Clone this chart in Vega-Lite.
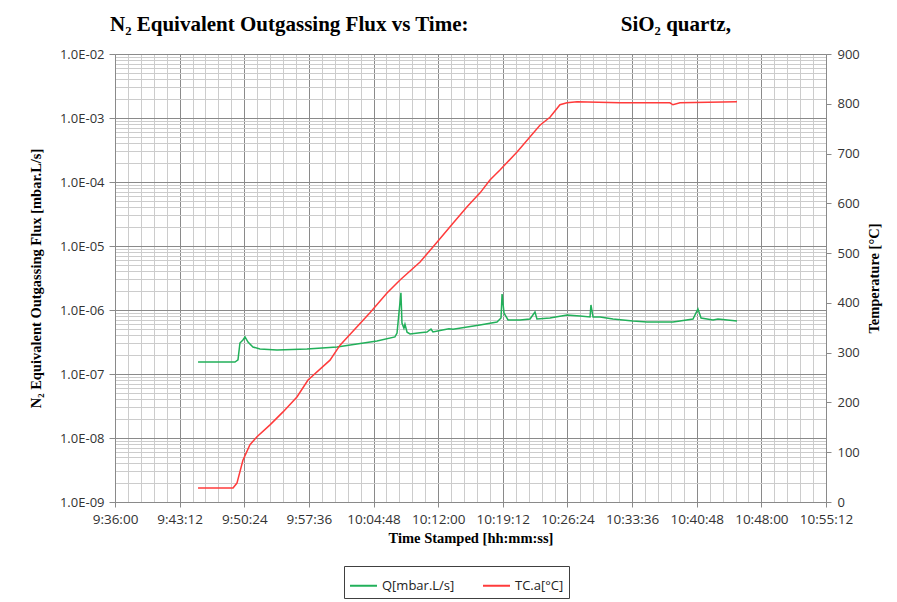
{
  "$schema": "https://vega.github.io/schema/vega-lite/v6.json",
  "width": 711,
  "height": 448,
  "autosize": {"type": "none"},
  "padding": {"left": 115, "top": 54, "right": 71, "bottom": 100},
  "background": "white",
  "config": {"view": {"stroke": null}},
  "title": {
    "text": "N₂ Equivalent Outgassing Flux vs Time: \u2003\u2003\u2003\u2003\u2003\u2003\u2003SiO₂ quartz,",
    "anchor": "start",
    "frame": "group",
    "dx": -5,
    "offset": 13,
    "font": "Liberation Serif",
    "fontSize": 21,
    "fontWeight": "bold",
    "color": "black"
  },
  "datasets": {
    "flux": [
      {"t": 35115, "Q": 1.54e-7}, {"t": 35362, "Q": 1.54e-7}, {"t": 35382, "Q": 1.66e-7},
      {"t": 35395, "Q": 3.05e-7}, {"t": 35415, "Q": 3.4e-7}, {"t": 35429, "Q": 3.79e-7},
      {"t": 35449, "Q": 3.16e-7}, {"t": 35482, "Q": 2.64e-7}, {"t": 35529, "Q": 2.46e-7},
      {"t": 35643, "Q": 2.37e-7}, {"t": 35843, "Q": 2.46e-7}, {"t": 36044, "Q": 2.64e-7},
      {"t": 36177, "Q": 2.94e-7}, {"t": 36311, "Q": 3.28e-7}, {"t": 36431, "Q": 3.79e-7},
      {"t": 36445, "Q": 4.37e-7}, {"t": 36458, "Q": 9.0e-7}, {"t": 36471, "Q": 1.85e-6},
      {"t": 36478, "Q": 6.26e-7}, {"t": 36491, "Q": 5.2e-7}, {"t": 36498, "Q": 6.0e-7},
      {"t": 36512, "Q": 4.5e-7}, {"t": 36532, "Q": 4.22e-7}, {"t": 36599, "Q": 4.4e-7},
      {"t": 36645, "Q": 4.53e-7}, {"t": 36672, "Q": 5.05e-7}, {"t": 36685, "Q": 4.53e-7},
      {"t": 36732, "Q": 4.8e-7}, {"t": 36792, "Q": 5.1e-7}, {"t": 36819, "Q": 5.0e-7},
      {"t": 36999, "Q": 5.83e-7}, {"t": 37113, "Q": 6.5e-7}, {"t": 37140, "Q": 7.5e-7},
      {"t": 37147, "Q": 1.78e-6}, {"t": 37160, "Q": 8.97e-7}, {"t": 37187, "Q": 7.0e-7},
      {"t": 37267, "Q": 6.98e-7}, {"t": 37334, "Q": 7.24e-7}, {"t": 37367, "Q": 9.3e-7},
      {"t": 37380, "Q": 7.24e-7}, {"t": 37467, "Q": 7.5e-7}, {"t": 37581, "Q": 8.35e-7},
      {"t": 37668, "Q": 8.05e-7}, {"t": 37735, "Q": 7.77e-7}, {"t": 37741, "Q": 1.2e-6},
      {"t": 37755, "Q": 7.77e-7}, {"t": 37802, "Q": 7.77e-7}, {"t": 37888, "Q": 7.24e-7},
      {"t": 38022, "Q": 6.73e-7}, {"t": 38116, "Q": 6.49e-7}, {"t": 38289, "Q": 6.49e-7},
      {"t": 38336, "Q": 6.73e-7}, {"t": 38423, "Q": 7.24e-7}, {"t": 38456, "Q": 1.04e-6},
      {"t": 38477, "Q": 7.5e-7}, {"t": 38557, "Q": 6.98e-7}, {"t": 38590, "Q": 7.24e-7},
      {"t": 38717, "Q": 6.73e-7}
    ],
    "temp": [
      {"t": 35115, "T": 28}, {"t": 35349, "T": 28}, {"t": 35375, "T": 38}, {"t": 35415, "T": 84},
      {"t": 35462, "T": 115}, {"t": 35509, "T": 131}, {"t": 35596, "T": 155}, {"t": 35683, "T": 181},
      {"t": 35776, "T": 211}, {"t": 35850, "T": 245}, {"t": 35997, "T": 285}, {"t": 36064, "T": 315},
      {"t": 36264, "T": 380}, {"t": 36378, "T": 420}, {"t": 36465, "T": 446}, {"t": 36599, "T": 482},
      {"t": 36712, "T": 522}, {"t": 36819, "T": 560}, {"t": 36913, "T": 593}, {"t": 37000, "T": 621},
      {"t": 37066, "T": 647}, {"t": 37133, "T": 667}, {"t": 37247, "T": 703}, {"t": 37400, "T": 757},
      {"t": 37467, "T": 773}, {"t": 37534, "T": 798}, {"t": 37581, "T": 802}, {"t": 37648, "T": 804},
      {"t": 37935, "T": 802}, {"t": 38269, "T": 802}, {"t": 38289, "T": 798}, {"t": 38336, "T": 802},
      {"t": 38717, "T": 804}
    ]
  },
  "encoding": {
    "x": {
      "field": "t",
      "type": "quantitative",
      "scale": {"domain": [34560, 39312], "nice": false, "zero": false},
      "axis": {
        "values": [34560, 34646.4, 34732.8, 34819.2, 34905.6, 34992, 35078.4, 35164.8, 35251.2, 35337.6, 35424, 35510.4, 35596.8, 35683.2, 35769.6, 35856, 35942.4, 36028.8, 36115.2, 36201.6, 36288, 36374.4, 36460.8, 36547.2, 36633.6, 36720, 36806.4, 36892.8, 36979.2, 37065.6, 37152, 37238.4, 37324.8, 37411.2, 37497.6, 37584, 37670.4, 37756.8, 37843.2, 37929.6, 38016, 38102.4, 38188.8, 38275.2, 38361.6, 38448, 38534.4, 38620.8, 38707.2, 38793.6, 38880, 38966.4, 39052.8, 39139.2, 39225.6, 39312],
        "labelExpr": "abs((datum.value-34560)/432 - round((datum.value-34560)/432)) < 0.01 ? floor(datum.value/3600) + ':' + pad(toString(floor((datum.value%3600)/60)),2,'0','left') + ':' + pad(toString(round(datum.value%60)),2,'0','left') : ''",
        "labelOverlap": false,
        "labelBound": false,
        "labelFlush": false,
        "labelFont": "Open Sans",
        "labelFontSize": 13.5,
        "labelColor": "#333333",
        "labelPadding": 5,
        "grid": true,
        "gridColor": {"condition": {"test": "abs((datum.value-34560)/432 - round((datum.value-34560)/432)) < 0.01", "value": "#8a8a8a"}, "value": "#cccccc"},
        "gridWidth": 1,
        "ticks": true,
        "tickSize": 5,
        "tickColor": "#8a8a8a",
        "tickOpacity": {"condition": {"test": "abs((datum.value-34560)/432 - round((datum.value-34560)/432)) < 0.01", "value": 1}, "value": 0},
        "domainColor": "#8a8a8a",
        "title": "Time Stamped [hh:mm:ss]",
        "titleFont": "Liberation Serif",
        "titleFontSize": 14.5,
        "titleFontWeight": "bold",
        "titleColor": "black",
        "titlePadding": 6
      }
    }
  },
  "layer": [
    {
      "data": {"name": "flux"},
      "mark": {"type": "line", "strokeWidth": 1.5},
      "encoding": {
        "y": {
          "field": "Q",
          "type": "quantitative",
          "scale": {"type": "log", "domain": [1e-9, 1e-2], "nice": false},
          "axis": {
            "values": [1e-9, 2e-9, 3e-9, 4e-9, 5e-9, 6e-9, 7e-9, 8e-9, 9e-9, 1e-8, 2e-8, 3e-8, 4e-8, 5e-8, 6e-8, 7e-8, 8e-8, 9e-8, 1e-7, 2e-7, 3e-7, 4e-7, 5e-7, 6e-7, 7e-7, 8e-7, 9e-7, 1e-6, 2e-6, 3e-6, 4e-6, 5e-6, 6e-6, 7e-6, 8e-6, 9e-6, 1e-5, 2e-5, 3e-5, 4e-5, 5e-5, 6e-5, 7e-5, 8e-5, 9e-5, 1e-4, 2e-4, 3e-4, 4e-4, 5e-4, 6e-4, 7e-4, 8e-4, 9e-4, 1e-3, 2e-3, 3e-3, 4e-3, 5e-3, 6e-3, 7e-3, 8e-3, 9e-3, 1e-2],
            "labelExpr": "abs(log(datum.value)/LN10 - round(log(datum.value)/LN10)) < 0.001 ? '1.0E-0' + round(-log(datum.value)/LN10) : ''",
            "labelOverlap": false,
            "labelBound": false,
            "labelFont": "Open Sans",
            "labelFontSize": 13,
            "labelColor": "#333333",
            "labelPadding": 5,
            "grid": true,
            "gridColor": {"condition": {"test": "abs(log(datum.value)/LN10 - round(log(datum.value)/LN10)) < 0.001", "value": "#8a8a8a"}, "value": "#cccccc"},
            "gridWidth": 1,
            "tickSize": 6,
            "tickColor": "#8a8a8a",
            "tickOpacity": {"condition": {"test": "abs(log(datum.value)/LN10 - round(log(datum.value)/LN10)) < 0.001", "value": 1}, "value": 0},
            "domainColor": "#8a8a8a",
            "title": "N₂ Equivalent Outgassing Flux [mbar.L/s]",
            "titleFont": "Liberation Serif",
            "titleFontSize": 14.5,
            "titleFontWeight": "bold",
            "titleColor": "black",
            "titlePadding": 16
          }
        },
        "color": {
          "datum": "Q[mbar.L/s]",
          "type": "nominal",
          "scale": {"domain": ["Q[mbar.L/s]", "TC.a[°C]"], "range": ["#22b05a", "#ff3b3b"]},
          "legend": {
            "title": null,
            "orient": "none",
            "legendX": 229,
            "legendY": 512,
            "direction": "horizontal",
            "symbolType": "stroke",
            "symbolSize": 729,
            "symbolStrokeWidth": 2,
            "labelFont": "Open Sans",
            "labelFontSize": 13,
            "labelColor": "#222222",
            "columnPadding": 24,
            "padding": 5,
            "strokeColor": "#404040",
            "fillColor": "white"
          }
        }
      }
    },
    {
      "data": {"name": "temp"},
      "mark": {"type": "line", "strokeWidth": 1.5},
      "encoding": {
        "y": {
          "field": "T",
          "type": "quantitative",
          "scale": {"domain": [0, 900], "nice": false},
          "axis": {
            "orient": "right",
            "values": [0, 100, 200, 300, 400, 500, 600, 700, 800, 900],
            "grid": false,
            "labelFont": "Open Sans",
            "labelFontSize": 13,
            "labelColor": "#333333",
            "labelPadding": 6,
            "tickSize": 5,
            "tickColor": "#8a8a8a",
            "domainColor": "#8a8a8a",
            "title": "Temperature [°C]",
            "titleAngle": 270,
            "titleFont": "Liberation Serif",
            "titleFontSize": 14.5,
            "titleFontWeight": "bold",
            "titleColor": "black",
            "titlePadding": 22
          }
        },
        "color": {"datum": "TC.a[°C]", "type": "nominal"}
      }
    }
  ],
  "resolve": {"scale": {"y": "independent"}}
}
